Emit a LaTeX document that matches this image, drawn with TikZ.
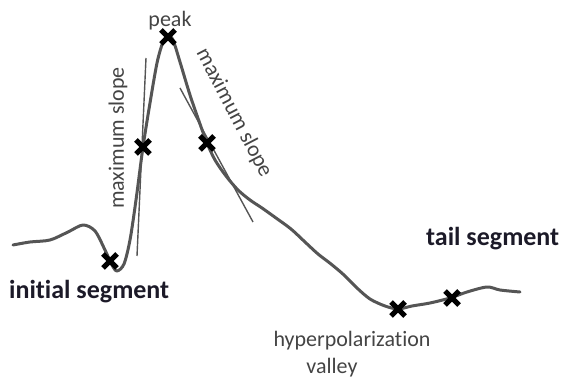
\documentclass[tikz,border=0pt]{standalone}
\usepackage{fontspec}
\setmainfont[Ligatures=NoCommon]{Carlito}
\usetikzlibrary{shapes.misc}
\definecolor{curvegray}{HTML}{555555}
\definecolor{labelgray}{HTML}{444444}
\definecolor{boldlab}{HTML}{1C1A28}
\tikzset{
  curveline/.style={draw=curvegray, line width=3pt, line join=round, line cap=round},
  tangent/.style={draw=curvegray, line width=1.4pt},
  marker/.style={cross out, draw=black, line width=5pt, minimum size=9pt, inner sep=0pt},
  graylab/.style={text=labelgray, font=\fontsize{22}{26}\selectfont, inner sep=0pt},
  boldlabel/.style={text=boldlab, font=\bfseries\fontsize{26}{30}\selectfont, inner sep=0pt}
}
\begin{document}
\begin{tikzpicture}[x=1pt,y=-1pt]
\useasboundingbox (0,0) rectangle (563,379);
% tangent lines
\coordinate (lt1) at (146,58);
\coordinate (lt2) at (137,256);
\coordinate (rt1) at (180,88);
\coordinate (rt2) at (253,222);
\draw[tangent] (lt1) -- (lt2);
\draw[tangent] (rt1) -- (rt2);
% curve
\draw[curveline] plot[smooth, tension=0.5] coordinates {
(13,245) (30,242) (50,240) (68,232) (83,225) (95,231) (105,250) (112,265) (117,271) (124,264) (130,240) (136,200) (143,147) (150,103) (157,63) (163,42) (168,36) (173,40) (180,62) (190,95) (200,124) (207,143) (215,160) (226,176) (238,190) (250,200) (262,208) (276,218) (291,229) (305,242) (318,254) (331,264) (344,275) (357,288) (370,299) (385,306) (398,309) (412,306) (430,303) (450,298) (467,292) (487,287) (500,290) (520,292)};
% markers
\node[marker] (m1) at (110,261) {};
\node[marker] (m2) at (143,147) {};
\node[marker] (m3) at (168,37) {};
\node[marker] (m4) at (207,143) {};
\node[marker] (m5) at (398,309) {};
\node[marker] (m6) at (452,298) {};
% labels
\node[graylab] (peak) at (170,21) {peak};
\node[graylab, rotate=90] (ms1) at (118,138) {maximum slope};
\node[graylab, rotate=-62.5] (ms2) at (234,113) {maximum slope};
\node[boldlabel, anchor=west] (init) at (9,292) {initial segment};
\node[boldlabel, anchor=west] (tail) at (426,239) {tail segment};
\node[graylab] (hyp) at (352,341) {hyperpolarization};
\node[graylab] (val) at (332,368) {valley};
\end{tikzpicture}
\end{document}
